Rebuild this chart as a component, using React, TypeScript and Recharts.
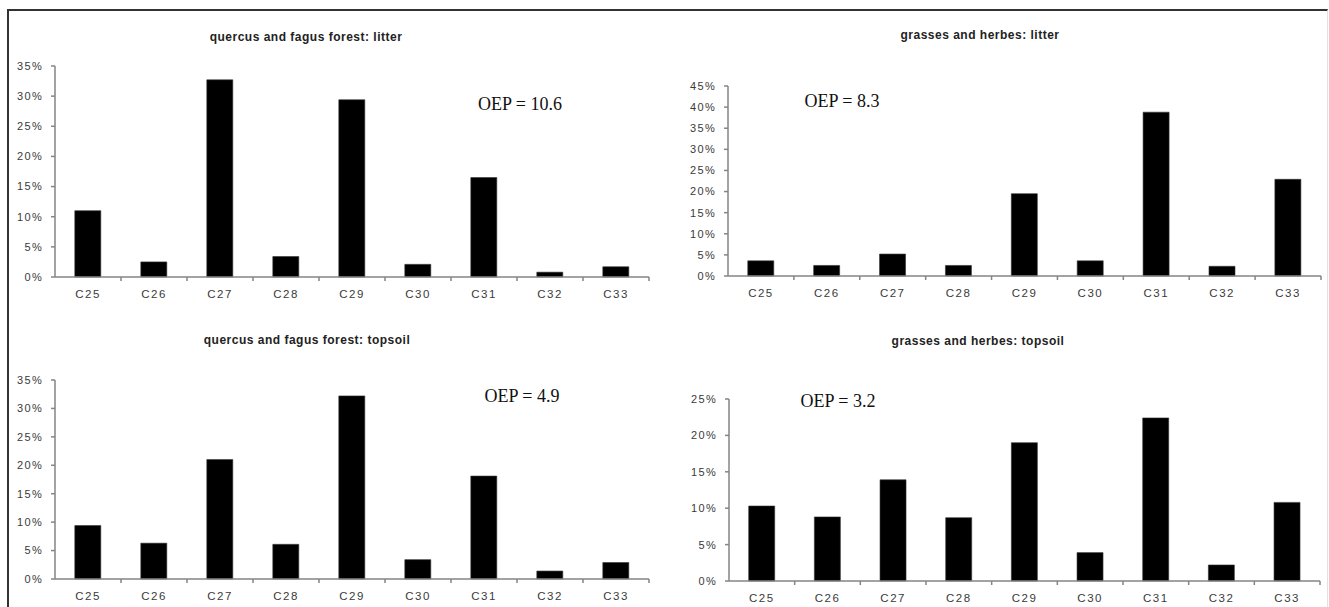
import React from 'react';
import { BarChart, Bar, XAxis, YAxis } from 'recharts';

const categories = ['C25', 'C26', 'C27', 'C28', 'C29', 'C30', 'C31', 'C32', 'C33'];
const forestLitter = [11.0, 2.5, 32.7, 3.4, 29.4, 2.1, 16.5, 0.8, 1.7];
const grassLitter = [3.6, 2.5, 5.2, 2.5, 19.5, 3.6, 38.8, 2.3, 22.9];
const forestTopsoil = [9.4, 6.3, 21.0, 6.1, 32.2, 3.4, 18.1, 1.4, 2.9];
const grassTopsoil = [10.3, 8.8, 13.9, 8.7, 19.0, 3.9, 22.4, 2.2, 10.8];

const ticks35 = [0, 5, 10, 15, 20, 25, 30, 35];
const ticks45 = [0, 5, 10, 15, 20, 25, 30, 35, 40, 45];
const ticks25 = [0, 5, 10, 15, 20, 25];

const titles = [
  'quercus and fagus forest: litter',
  'grasses and herbes: litter',
  'quercus and fagus forest: topsoil',
  'grasses and herbes: topsoil',
];
const oepLabels = ['OEP = 10.6', 'OEP = 8.3', 'OEP = 4.9', 'OEP = 3.2'];

const AXIS = '#858585';
const LABEL = '#3a3a3a';

const toRows = (vals: number[]) => categories.map((c, i) => ({ cat: c, v: vals[i] }));

const XTick = (props: any) => {
  const { x, y, payload } = props;
  const off = payload && typeof payload.offset === 'number' ? payload.offset : 0;
  const axisY = y - 13;
  return (
    <g>
      <line x1={x + off} x2={x + off} y1={axisY} y2={axisY + 4} stroke={AXIS} strokeWidth={1.5} />
      <text
        x={x}
        y={y}
        dy="0.71em"
        textAnchor="middle"
        fill={LABEL}
        fontSize={11.5}
        letterSpacing={1.5}
        fontFamily="'Liberation Sans', Arial, sans-serif"
      >
        {payload.value}
      </text>
    </g>
  );
};

type PanelProps = {
  left: number;
  top: number;
  width: number;
  height: number;
  margin: { top: number; right: number; bottom: number; left: number };
  data: number[];
  ticks: number[];
  title: string;
  titleX: number;
  titleY: number;
  oep: string;
  oepX: number;
  oepY: number;
};

const Panel = (p: PanelProps) => {
  const max = p.ticks[p.ticks.length - 1];
  return (
    <>
      <div style={{ position: 'absolute', left: p.left, top: p.top }}>
        <BarChart
          width={p.width}
          height={p.height}
          data={toRows(p.data)}
          margin={p.margin}
          barCategoryGap="30%"
        >
          <XAxis
            dataKey="cat"
            interval={0}
            height={20}
            tickLine={false}
            tickSize={4}
            tickMargin={9}
            axisLine={{ stroke: AXIS, strokeWidth: 1.5 }}
            tick={<XTick />}
          />
          <YAxis
            width={40}
            domain={[0, max]}
            ticks={p.ticks}
            interval={0}
            tickSize={4}
            tickMargin={8}
            tickFormatter={(v: number) => `${v}%`}
            axisLine={{ stroke: AXIS, strokeWidth: 1.5 }}
            tickLine={{ stroke: AXIS, strokeWidth: 1.5 }}
            tick={{
              fill: LABEL,
              fontSize: 11,
              letterSpacing: 1.3,
              fontFamily: "'Liberation Sans', Arial, sans-serif",
            }}
          />
          <Bar dataKey="v" fill="#000" stroke="#333" strokeWidth={0.6} isAnimationActive={false} />
        </BarChart>
      </div>
      <div
        style={{
          position: 'absolute',
          left: p.titleX,
          top: p.titleY,
          transform: 'translate(-50%, -50%)',
          whiteSpace: 'nowrap',
          fontFamily: "'Liberation Sans', Arial, sans-serif",
          fontWeight: 'bold',
          fontSize: 12,
          letterSpacing: 0.5,
          color: '#222',
        }}
      >
        {p.title}
      </div>
      <div
        style={{
          position: 'absolute',
          left: p.oepX,
          top: p.oepY,
          transform: 'translate(-50%, -50%)',
          whiteSpace: 'nowrap',
          fontFamily: "'Liberation Serif', 'Times New Roman', serif",
          fontSize: 18,
          color: '#111',
        }}
      >
        {p.oep}
      </div>
    </>
  );
};

export default function App() {
  return (
    <div
      style={{
        position: 'absolute',
        left: 0,
        top: 0,
        width: 1329,
        height: 607,
        background: '#fff',
        overflow: 'hidden',
      }}
    >
      <div
        style={{
          position: 'absolute',
          left: 7,
          top: 9,
          width: 1318,
          height: 620,
          borderTop: '2px solid #333',
          borderLeft: '2px solid #333',
          borderRight: '1px solid #e2e2e2',
        }}
      />
      <Panel
        left={0}
        top={0}
        width={665}
        height={300}
        margin={{ top: 66, right: 16, bottom: 3, left: 15 }}
        data={forestLitter}
        ticks={ticks35}
        title={titles[0]}
        titleX={306}
        titleY={37}
        oep={oepLabels[0]}
        oepX={520}
        oepY={104}
      />
      <Panel
        left={665}
        top={0}
        width={664}
        height={300}
        margin={{ top: 86, right: 8, bottom: 4, left: 23 }}
        data={grassLitter}
        ticks={ticks45}
        title={titles[1]}
        titleX={980}
        titleY={35}
        oep={oepLabels[1]}
        oepX={842}
        oepY={101}
      />
      <Panel
        left={0}
        top={300}
        width={665}
        height={307}
        margin={{ top: 80, right: 16, bottom: 8, left: 15 }}
        data={forestTopsoil}
        ticks={ticks35}
        title={titles[2]}
        titleX={307}
        titleY={340}
        oep={oepLabels[2]}
        oepX={522}
        oepY={396}
      />
      <Panel
        left={665}
        top={300}
        width={664}
        height={307}
        margin={{ top: 99, right: 9, bottom: 6, left: 24 }}
        data={grassTopsoil}
        ticks={ticks25}
        title={titles[3]}
        titleX={978}
        titleY={341}
        oep={oepLabels[3]}
        oepX={838}
        oepY={401}
      />
    </div>
  );
}
